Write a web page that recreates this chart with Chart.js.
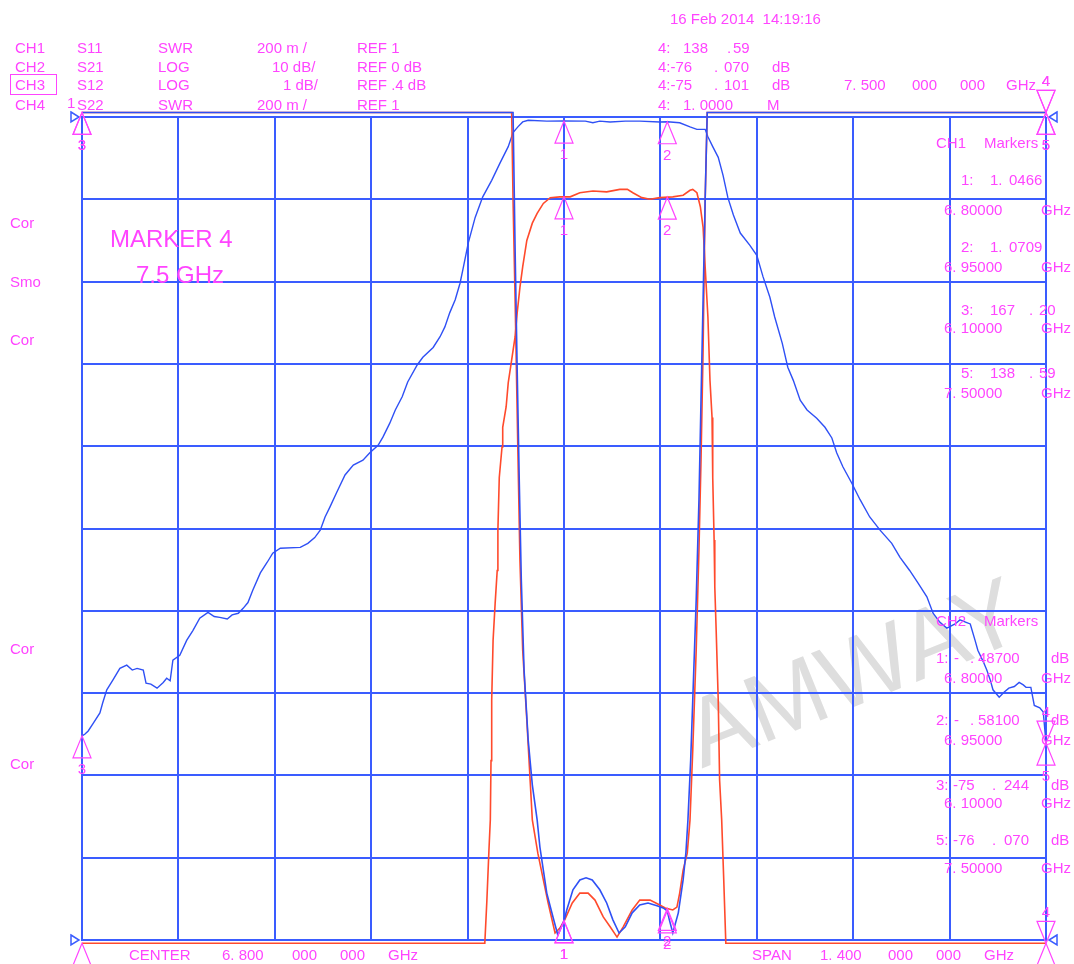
<!DOCTYPE html>
<html>
<head>
<meta charset="utf-8">
<script src="https://cdn.jsdelivr.net/npm/chart.js@4.4.1/dist/chart.umd.min.js"></script>
<style>
  html, body { margin: 0; padding: 0; background: #fff; }
</style>
</head>
<body>
<canvas id="vna" width="1074" height="964"></canvas>
<script>
// sweep: center 6.8 GHz, span 1.4 GHz
const freqGrid = [6.10, 6.24, 6.38, 6.52, 6.66, 6.80, 6.94, 7.08, 7.22, 7.36, 7.50]
const divGrid = [0, 1, 2, 3, 4, 5, 6, 7, 8, 9, 10]

// CH2 S21 LOG 10 dB/div, REF 0 dB (blue, broad)
const s21Freq = [6.100,6.104,6.109,6.116,6.126,6.130,6.136,6.145,6.155,6.165,
  6.173,6.180,6.189,6.193,6.200,6.209,6.218,6.223,6.228,6.232,
  6.242,6.252,6.261,6.271,6.283,6.292,6.300,6.311,6.318,6.327,
  6.334,6.341,6.348,6.359,6.369,6.377,6.388,6.417,6.428,6.438,
  6.446,6.453,6.460,6.470,6.482,6.494,6.508,6.518,6.530,6.537,
  6.547,6.555,6.565,6.573,6.587,6.595,6.610,6.620,6.627,6.634,
  6.642,6.649,6.653,6.661,6.671,6.682,6.695,6.707,6.719,6.726,
  6.733,6.740,6.748,6.775,6.800,6.831,6.842,6.852,6.867,6.889,
  6.910,6.939,6.950,6.968,6.983,6.993,7.005,7.009,7.016,7.024,
  7.031,7.038,7.046,7.056,7.070,7.080,7.089,7.099,7.106,7.117,
  7.125,7.133,7.143,7.153,7.167,7.179,7.189,7.196,7.205,7.218,
  7.230,7.244,7.259,7.276,7.288,7.302,7.314,7.327,7.336,7.346,
  7.356,7.368,7.375,7.384,7.390,7.397,7.401,7.409,7.414,7.419,
  7.423,7.432,7.439,7.446,7.454,7.461,7.467,7.471,7.478,7.483,
  7.491,7.496,7.500]
const s21Db = [-75.2,-75.0,-74.6,-73.7,-72.4,-71.2,-69.6,-68.4,-67.0,-66.6,
  -67.2,-67.0,-67.2,-68.8,-68.9,-69.4,-68.7,-68.2,-68.5,-66.0,
  -65.4,-63.6,-62.4,-60.9,-60.2,-60.7,-60.8,-61.0,-60.5,-60.3,
  -59.7,-59.0,-57.5,-55.4,-54.1,-53.0,-52.4,-52.3,-51.8,-51.1,
  -50.2,-48.6,-47.4,-45.6,-43.5,-42.3,-41.7,-40.8,-39.9,-38.9,
  -37.2,-35.6,-34.0,-32.2,-30.1,-29.2,-28.0,-26.7,-25.5,-23.8,
  -22.2,-20.2,-18.6,-15.3,-12.2,-9.7,-7.7,-5.6,-3.6,-1.9,
  -1.2,-0.6,-0.4,-0.5,-0.49,-0.5,-0.7,-0.5,-0.6,-0.5,
  -0.5,-0.6,-0.58,-0.7,-1.2,-1.5,-1.5,-2.4,-3.6,-4.9,
  -7.1,-9.8,-11.9,-14.1,-15.6,-16.8,-19.4,-21.9,-24.3,-27.5,
  -30.4,-32.0,-34.4,-35.6,-36.6,-37.7,-39.0,-40.8,-42.5,-44.5,
  -46.5,-48.6,-50.2,-51.8,-53.5,-55.1,-56.6,-58.3,-60.3,-61.4,
  -62.1,-61.6,-61.1,-61.4,-61.6,-63.6,-64.8,-66.2,-67.2,-68.4,
  -69.6,-70.5,-69.9,-69.4,-69.2,-68.7,-69.0,-69.3,-69.3,-71.5,
  -71.8,-72.3,-76.07]

// CH3 S12 LOG 1 dB/div, REF .4 dB (red, flat top) - held at bottom edge when off screen
const s12Freq = [6.100,6.685,6.688,6.691,6.693,6.694,6.695,6.697,6.700,6.703,
  6.704,6.706,6.710,6.711,6.716,6.719,6.724,6.729,6.732,6.736,
  6.740,6.746,6.754,6.761,6.770,6.780,6.794,6.809,6.823,6.842,
  6.862,6.881,6.892,6.900,6.913,6.925,6.939,6.958,6.973,6.983,
  6.987,6.993,6.998,7.002,7.005,7.009,7.012,7.015,7.016,7.018,
  7.019,7.021,7.024,7.026,7.029,7.032,7.035,7.500]
const s12Db = [-9.64,-9.64,-9.12,-8.51,-8.14,-7.42,-6.69,-5.96,-5.51,-5.11,
  -4.62,-3.98,-3.61,-3.37,-3.12,-2.83,-2.55,-2.27,-1.98,-1.67,
  -1.42,-1.10,-0.89,-0.77,-0.65,-0.58,-0.57,-0.57,-0.52,-0.50,
  -0.51,-0.48,-0.48,-0.52,-0.58,-0.60,-0.58,-0.57,-0.55,-0.49,
  -0.48,-0.52,-0.69,-0.94,-1.42,-2.03,-2.80,-3.25,-3.98,-4.74,
  -5.31,-5.84,-6.69,-7.66,-8.14,-8.87,-9.64,-9.64]

// CH1 S11 SWR 200 m/div, REF 1 (blue) - held at top edge when off screen
const s11Freq = [6.100,6.726,6.729,6.732,6.735,6.738,6.742,6.748,6.754,6.761,
  6.765,6.770,6.775,6.784,6.791,6.800,6.804,6.813,6.823,6.832,
  6.841,6.852,6.862,6.871,6.880,6.889,6.899,6.910,6.922,6.935,
  6.944,6.950,6.953,6.958,6.966,6.973,6.977,6.980,6.984,6.987,
  6.992,6.996,6.999,7.002,7.005,7.008,7.500]
const s11Swr = [3.011,3.011,2.677,2.386,2.118,1.875,1.656,1.486,1.377,1.292,
  1.226,1.170,1.114,1.056,1.012,1.047,1.073,1.122,1.146,1.151,
  1.146,1.122,1.090,1.049,1.017,1.032,1.066,1.085,1.090,1.083,
  1.078,1.071,1.049,1.017,1.066,1.146,1.211,1.292,1.438,1.583,
  1.827,2.070,2.313,2.556,2.799,3.011,3.011]

// CH4 S22 SWR 200 m/div, REF 1 (red)
const s22Freq = [6.100,6.724,6.726,6.729,6.733,6.736,6.740,6.746,6.754,6.762,
  6.770,6.777,6.787,6.794,6.801,6.812,6.823,6.835,6.845,6.857,
  6.867,6.877,6.886,6.899,6.910,6.925,6.939,6.947,6.958,6.964,
  6.968,6.973,6.979,6.983,6.987,6.992,6.996,6.999,7.002,7.005,
  7.008,7.500]
const s22Swr = [3.011,3.011,2.799,2.556,2.191,1.924,1.705,1.535,1.292,1.211,
  1.146,1.090,1.017,1.029,1.049,1.090,1.114,1.114,1.097,1.056,
  1.032,1.007,1.032,1.073,1.097,1.097,1.085,1.078,1.073,1.080,
  1.114,1.170,1.211,1.292,1.462,1.705,1.948,2.167,2.434,2.799,
  3.011,3.011]

// markers 1..5, marker 4 is the active one
const markerNames = ['1', '2', '3', '4', '5']
const markerFreqs = [6.80, 6.95, 6.10, 7.50, 7.50]

const BLUE = '#3a5cff'
const TRACE_BLUE = '#2f50f5'
const RED = '#ff4a2c'
const MAG = '#ff44ff'
const FONT = '"Liberation Sans", Arial, sans-serif'

const zip = (xs, ys) => xs.slice(0, Math.min(xs.length, ys.length)).map((x, i) => ({ x, y: ys[i] }))

const texts = [
  ['CH1', 15, 53], ['S11', 77, 53], ['SWR', 158, 53], ['200 m /', 257, 53], ['REF 1', 357, 53],
  ['CH2', 15, 72], ['S21', 77, 72], ['LOG', 158, 72], ['10 dB/', 272, 72], ['REF 0 dB', 357, 72],
  ['CH3', 15, 90], ['S12', 77, 90], ['LOG', 158, 90], ['1 dB/', 283, 90], ['REF .4 dB', 357, 90],
  ['CH4', 15, 110], ['S22', 77, 110], ['SWR', 158, 110], ['200 m /', 257, 110], ['REF 1', 357, 110],
  ['16 Feb 2014  14:19:16', 670, 24],
  ['4:', 658, 53], ['138', 683, 53], ['.', 727, 53], ['59', 733, 53],
  ['4:-76', 658, 72], ['.', 714, 72], ['070', 724, 72], ['dB', 772, 72],
  ['4:-75', 658, 90], ['.', 714, 90], ['101', 724, 90], ['dB', 772, 90],
  ['7. 500', 844, 90], ['000', 912, 90], ['000', 960, 90], ['GHz', 1006, 90],
  ['4:', 658, 110], ['1. 0000', 683, 110], ['M', 767, 110],
  ['CH1', 936, 148], ['Markers', 984, 148],
  ['1:', 961, 185], ['1.', 990, 185], ['0466', 1009, 185],
  ['6. 80000', 944, 215], ['GHz', 1041, 215],
  ['2:', 961, 252], ['1.', 990, 252], ['0709', 1009, 252],
  ['6. 95000', 944, 272], ['GHz', 1041, 272],
  ['3:', 961, 315], ['167', 990, 315], ['.', 1029, 315], ['20', 1039, 315],
  ['6. 10000', 944, 333], ['GHz', 1041, 333],
  ['5:', 961, 378], ['138', 990, 378], ['.', 1029, 378], ['59', 1039, 378],
  ['7. 50000', 944, 398], ['GHz', 1041, 398],
  ['CH2', 936, 626], ['Markers', 984, 626],
  ['1:', 936, 663], ['-', 954, 663], ['.', 970, 663], ['48700', 978, 663], ['dB', 1051, 663],
  ['6. 80000', 944, 683], ['GHz', 1041, 683],
  ['2:', 936, 725], ['-', 954, 725], ['.', 970, 725], ['58100', 978, 725], ['dB', 1051, 725],
  ['6. 95000', 944, 745], ['GHz', 1041, 745],
  ['3:', 936, 790], ['-75', 953, 790], ['.', 992, 790], ['244', 1004, 790], ['dB', 1051, 790],
  ['6. 10000', 944, 808], ['GHz', 1041, 808],
  ['5:', 936, 845], ['-76', 953, 845], ['.', 992, 845], ['070', 1004, 845], ['dB', 1051, 845],
  ['7. 50000', 944, 873], ['GHz', 1041, 873],
  ['Cor', 10, 228], ['Smo', 10, 287], ['Cor', 10, 345], ['Cor', 10, 654], ['Cor', 10, 769],
  ['CENTER', 129, 960], ['6. 800', 222, 960], ['000', 292, 960], ['000', 340, 960], ['GHz', 388, 960],
  ['SPAN', 752, 960], ['1. 400', 820, 960], ['000', 888, 960], ['000', 936, 960], ['GHz', 984, 960],
  ['1', 67, 108]
]

function valueAt(data, f) {
  for (let i = 1; i < data.length; i++) {
    if (data[i].x >= f) {
      const a = data[i - 1], b = data[i]
      const t = b.x === a.x ? 1 : (f - a.x) / (b.x - a.x)
      return a.y + t * (b.y - a.y)
    }
  }
  return data[data.length - 1].y
}

const screenPlugin = {
  id: 'screen',
  beforeDraw(chart) {
    const ctx = chart.ctx
    ctx.save()
    ctx.fillStyle = '#fff'
    ctx.fillRect(0, 0, chart.width, chart.height)
    // watermark
    ctx.translate(855, 678)
    ctx.rotate(-22 * Math.PI / 180)
    ctx.fillStyle = '#dedede'
    ctx.font = '96px ' + FONT
    ctx.textAlign = 'center'
    ctx.textBaseline = 'middle'
    ctx.fillText('AMWAY', 0, 0)
    ctx.restore()
  },
  afterDraw(chart) {
    const ctx = chart.ctx
    const area = chart.chartArea
    const xs = chart.scales.x
    ctx.save()
    // reference position arrows
    ctx.strokeStyle = BLUE
    ctx.lineWidth = 1.5
    ;[area.top, area.bottom].forEach(y => {
      ctx.beginPath()
      ctx.moveTo(area.left - 11, y - 5); ctx.lineTo(area.left - 3, y); ctx.lineTo(area.left - 11, y + 5); ctx.closePath()
      ctx.stroke()
      ctx.beginPath()
      ctx.moveTo(area.right + 11, y - 5); ctx.lineTo(area.right + 3, y); ctx.lineTo(area.right + 11, y + 5); ctx.closePath()
      ctx.stroke()
    })
    // markers
    ctx.strokeStyle = MAG
    ctx.fillStyle = MAG
    ctx.lineWidth = 1.2
    ctx.font = '15px ' + FONT
    ctx.textAlign = 'center'
    ctx.textBaseline = 'alphabetic'
    chart.data.datasets.forEach(ds => {
      const ys = chart.scales[ds.yAxisID]
      markerFreqs.forEach((f, i) => {
        const px = xs.getPixelForValue(f)
        const py = ys.getPixelForValue(valueAt(ds.data, f))
        const down = markerNames[i] === '4'
        const by = down ? py - 22 : py + 22
        ctx.beginPath()
        ctx.moveTo(px, py); ctx.lineTo(px - 9, by); ctx.lineTo(px + 9, by); ctx.closePath()
        ctx.stroke()
        ctx.fillText(markerNames[i], px, down ? by - 4 : by + 16)
      })
    })
    // annotation texts
    ctx.textAlign = 'left'
    texts.forEach(([s, x, y]) => ctx.fillText(s, x, y))
    ctx.font = '24px ' + FONT
    ctx.fillText('MARKER 4', 110, 247)
    ctx.fillText('7.5 GHz', 136, 283)
    ctx.lineWidth = 1
    ctx.strokeRect(10.5, 74.5, 46, 20)
    ctx.restore()
  }
}

const gridAxis = {
  grid: { color: BLUE, lineWidth: 2, drawTicks: false },
  border: { color: BLUE, width: 2 },
  ticks: { display: false }
}

new Chart(document.getElementById('vna'), {
  type: 'line',
  data: {
    datasets: [
      { label: 'CH1 S11', data: zip(s11Freq, s11Swr), yAxisID: 'ySwr', borderColor: TRACE_BLUE, borderWidth: 1.6, order: 0 },
      { label: 'CH4 S22', data: zip(s22Freq, s22Swr), yAxisID: 'ySwr', borderColor: RED, borderWidth: 1.6, order: 1 },
      { label: 'CH2 S21', data: zip(s21Freq, s21Db), yAxisID: 'yS21', borderColor: TRACE_BLUE, borderWidth: 1.4, order: 2 },
      { label: 'CH3 S12', data: zip(s12Freq, s12Db), yAxisID: 'yS12', borderColor: RED, borderWidth: 1.6, order: 3 }
    ]
  },
  options: {
    responsive: false,
    animation: false,
    devicePixelRatio: 1,
    events: [],
    layout: { padding: { left: 82, right: 28, top: 117, bottom: 24 } },
    elements: { point: { radius: 0 }, line: { tension: 0 } },
    datasets: { line: { clip: 8 } },
    plugins: { legend: { display: false }, tooltip: { enabled: false } },
    scales: {
      x: {
        type: 'linear', min: 6.1, max: 7.5, ...gridAxis,
        afterBuildTicks: s => { s.ticks = freqGrid.map(v => ({ value: v })) }
      },
      yg: {
        type: 'linear', position: 'left', min: 0, max: 10, ...gridAxis,
        afterBuildTicks: s => { s.ticks = divGrid.map(v => ({ value: v })) }
      },
      ySwr: { type: 'linear', display: false, min: 1, max: 3 },
      yS21: { type: 'linear', display: false, min: -100, max: 0 },
      yS12: { type: 'linear', display: false, min: -9.6, max: 0.4 }
    }
  },
  plugins: [screenPlugin]
})
</script>
</body>
</html>
